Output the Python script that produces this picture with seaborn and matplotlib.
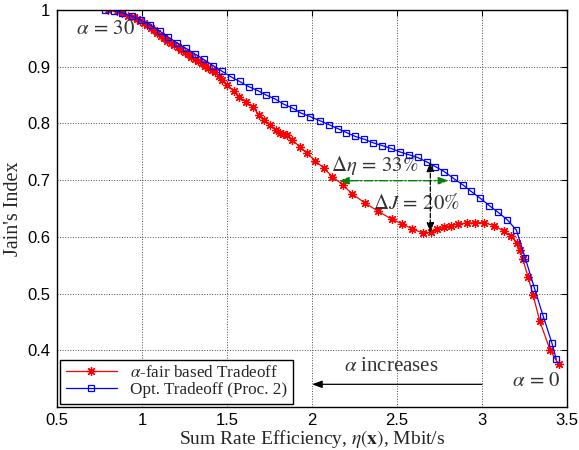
import numpy as np
import pandas as pd
import matplotlib
matplotlib.use('Agg')
import matplotlib.pyplot as plt
import seaborn as sns

# alpha-fair based tradeoff (red, asterisks)
fair_eta = [0.80, 0.85, 0.88, 0.92, 0.95, 0.97, 0.99, 1.01, 1.03, 1.05,
            1.07, 1.09, 1.11, 1.13, 1.15, 1.17, 1.19, 1.21, 1.23, 1.25,
            1.27, 1.29, 1.31, 1.33, 1.35, 1.37, 1.39, 1.41, 1.43, 1.45,
            1.47, 1.50, 1.54, 1.57, 1.61, 1.65, 1.69, 1.72, 1.75, 1.79,
            1.81, 1.83, 1.85, 1.88, 1.93, 1.97, 2.02, 2.07, 2.12, 2.18,
            2.235, 2.31, 2.39, 2.47, 2.53, 2.59, 2.65, 2.70, 2.735, 2.775,
            2.82, 2.86, 2.91, 2.96, 3.01, 3.07, 3.13, 3.17, 3.205, 3.225,
            3.24, 3.27, 3.30, 3.34, 3.40, 3.45]
fair_jain = [1.000, 0.998, 0.995, 0.990, 0.987, 0.984, 0.981, 0.977, 0.973, 0.969,
             0.965, 0.960, 0.955, 0.951, 0.946, 0.942, 0.938, 0.934, 0.930, 0.926,
             0.922, 0.918, 0.914, 0.910, 0.906, 0.902, 0.898, 0.894, 0.890, 0.884,
             0.877, 0.868, 0.857, 0.847, 0.838, 0.829, 0.815, 0.806, 0.798, 0.789,
             0.783, 0.781, 0.779, 0.771, 0.759, 0.747, 0.734, 0.721, 0.706, 0.692,
             0.676, 0.660, 0.645, 0.631, 0.623, 0.614, 0.607, 0.608, 0.613, 0.617,
             0.620, 0.623, 0.624, 0.625, 0.625, 0.620, 0.610, 0.601, 0.590, 0.577,
             0.561, 0.530, 0.498, 0.451, 0.401, 0.375]

# optimal tradeoff, Proc. 2 (blue, squares)
opt_eta = [0.784, 0.833, 0.882, 0.941, 0.996, 1.049, 1.104, 1.151, 1.206, 1.256,
           1.309, 1.362, 1.418, 1.471, 1.524, 1.574, 1.627, 1.680, 1.731, 1.784,
           1.833, 1.886, 1.937, 1.990, 2.045, 2.098, 2.151, 2.202, 2.255, 2.308,
           2.359, 2.412, 2.465, 2.515, 2.568, 2.621, 2.676, 2.725, 2.778, 2.833,
           2.886, 2.937, 2.990, 3.043, 3.096, 3.149, 3.202, 3.255, 3.308, 3.359,
           3.412, 3.437]
opt_jain = [1.000, 0.999, 0.995, 0.989, 0.982, 0.974, 0.963, 0.953, 0.942, 0.933,
            0.923, 0.913, 0.902, 0.892, 0.882, 0.874, 0.865, 0.858, 0.850, 0.843,
            0.834, 0.827, 0.818, 0.812, 0.805, 0.798, 0.791, 0.784, 0.777, 0.772,
            0.766, 0.761, 0.756, 0.750, 0.745, 0.740, 0.732, 0.724, 0.715, 0.703,
            0.692, 0.680, 0.668, 0.655, 0.643, 0.630, 0.612, 0.562, 0.510, 0.461,
            0.412, 0.384]

x_ticks = [0.5, 1, 1.5, 2, 2.5, 3, 3.5]
y_ticks = [0.4, 0.5, 0.6, 0.7, 0.8, 0.9, 1]

sns.set_style('whitegrid')
plt.rcParams['font.family'] = ['Liberation Sans', 'DejaVu Sans']
plt.rcParams['mathtext.fontset'] = 'stix'
serif = ['Liberation Serif', 'DejaVu Serif']

fig = plt.figure(figsize=(5.79, 4.5), dpi=100)
ax = fig.add_axes([57 / 579, 1 - 407 / 450, 510 / 579, 397 / 450])

sns.lineplot(x=fair_eta, y=fair_jain, ax=ax, sort=False, estimator=None,
             color='red', linewidth=0.9, marker=(8, 2, 0), markersize=6.5,
             markeredgecolor='red', markeredgewidth=0.9,
             label=r'$\alpha$-fair based Tradeoff')
sns.lineplot(x=opt_eta, y=opt_jain, ax=ax, sort=False, estimator=None,
             color='blue', linewidth=0.9, marker='s', markersize=5,
             markerfacecolor='none', markeredgecolor='blue', markeredgewidth=0.9,
             label='Opt. Tradeoff (Proc. 2)')

ax.set_xlim(0.5, 3.5)
ax.set_ylim(0.3, 1.0)
ax.set_xticks(x_ticks)
ax.set_xticklabels(['0.5', '1', '1.5', '2', '2.5', '3', '3.5'])
ax.set_yticks(y_ticks)
ax.set_yticklabels(['0.4', '0.5', '0.6', '0.7', '0.8', '0.9', '1'])
ax.tick_params(direction='in', length=4, width=0.8, top=True, right=True,
               labelsize=12, colors='black', pad=5)
ax.tick_params(axis='x', pad=4)
ax.grid(True, linestyle=':', color='0.3', linewidth=0.7)
for s in ax.spines.values():
    s.set_color('black')
    s.set_linewidth(1.0)

ax.set_xlabel(r'Sum Rate Efficiency, $\eta(\mathbf{x})$, Mbit/s', family=serif,
              fontsize=14, labelpad=0)
ax.set_ylabel("Jain's Index", family=serif, fontsize=14.5, labelpad=3)

# annotations
txt = dict(fontsize=15, va='center', color='0.2')
ax.text(0.784, 0.967, r'$\alpha\,=\,30$', ha='center', **txt)
ax.text(3.466, 0.347, r'$\alpha\,=\,0$', ha='right', **txt)
ax.text(2.466, 0.371, r'$\alpha$ increases', ha='center', family=serif, **txt)
ax.text(2.368, 0.727, r'$\Delta\eta\,=\,33\%$', ha='center', **txt)
ax.text(2.614, 0.659, r'$\Delta J\,=\,20\%$', ha='center', **txt)

green = (0, 0.5, 0)
ax.annotate('', xy=(2.157, 0.699), xytext=(2.804, 0.699),
            arrowprops=dict(arrowstyle='<|-|>,head_length=0.6,head_width=0.22',
                            color=green, linestyle='-.', lw=1, shrinkA=0, shrinkB=0))
ax.annotate('', xy=(2.696, 0.733), xytext=(2.696, 0.607),
            arrowprops=dict(arrowstyle='<|-|>,head_length=0.6,head_width=0.22',
                            color='black', linestyle='--', lw=0.9, shrinkA=0, shrinkB=0))
ax.annotate('', xy=(2.0, 0.340), xytext=(3.0, 0.340),
            arrowprops=dict(arrowstyle='-|>,head_length=0.6,head_width=0.22',
                            color='black', lw=0.9, shrinkA=0, shrinkB=0))

leg = ax.legend(loc='lower left', prop={'family': serif, 'size': 12.3},
                frameon=True, fancybox=False, borderaxespad=0.2,
                handlelength=3.0, handletextpad=0.8, borderpad=0.3, labelspacing=0.1)
leg.get_frame().set_edgecolor('black')
leg.get_frame().set_linewidth(1.0)
leg.get_frame().set_alpha(1)

fig.savefig('out.png', dpi=100)
